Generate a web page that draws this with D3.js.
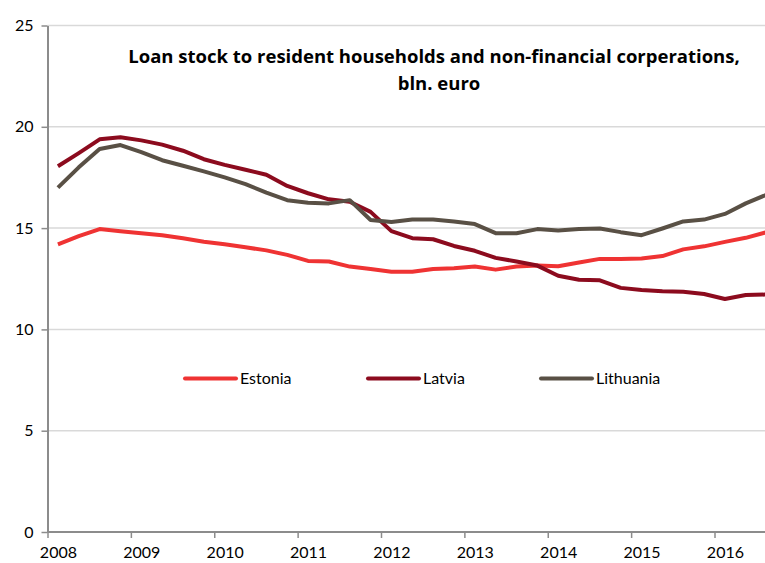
<!DOCTYPE html>
<html>
<head>
<meta charset="utf-8">
<script src="https://cdn.jsdelivr.net/npm/d3@7"></script>
<style>
  body { margin: 0; background: #fff; }
  text { font-family: Lato, "Open Sans", sans-serif; fill: #000; }
</style>
</head>
<body>
<div id="chart"></div>
<script>
// quarterly figures, 2008 Q1 .. 2016 Q3, bln. euro
var quarters = d3.range(35).map(function(i) { return 2008 + (i + 0.5) / 4; });

var estonia = [14.2, 14.6, 14.95, 14.85, 14.75, 14.65, 14.5, 14.33, 14.2, 14.05,
  13.9, 13.68, 13.38, 13.35, 13.1, 12.98, 12.85, 12.85, 12.98, 13.02,
  13.1, 12.95, 13.1, 13.15, 13.12, 13.3, 13.48, 13.48, 13.5, 13.62,
  13.95, 14.1, 14.32, 14.52, 14.8];

var latvia = [18.05, 18.7, 19.38, 19.48, 19.33, 19.12, 18.82, 18.4, 18.12, 17.88,
  17.63, 17.08, 16.72, 16.42, 16.3, 15.8, 14.85, 14.5, 14.45, 14.12,
  13.88, 13.53, 13.35, 13.15, 12.65, 12.45, 12.42, 12.05, 11.95, 11.88,
  11.86, 11.75, 11.5, 11.7, 11.72];

var lithuania = [17.0, 18.0, 18.9, 19.1, 18.75, 18.35, 18.08, 17.8, 17.5, 17.17,
  16.75, 16.38, 16.25, 16.22, 16.38, 15.4, 15.3, 15.42, 15.42, 15.33,
  15.2, 14.75, 14.75, 14.95, 14.88, 14.95, 14.98, 14.8, 14.65, 14.98,
  15.33, 15.42, 15.7, 16.22, 16.65];

var seriesNames = ["Estonia", "Latvia", "Lithuania"];
var seriesColors = ["#ef3333", "#8c0b1e", "#595045"];
var yearTicks = d3.range(2008, 2017);
var valueTicks = [0, 5, 10, 15, 20, 25];

var svgWidth = 765;
var svgHeight = 563;

var svg = d3.select("#chart").append("svg")
  .attr("width", svgWidth)
  .attr("height", svgHeight);

// scales: one year is about 83 px, the plot runs past the right edge
var xScale = d3.scaleLinear().domain([2008, 2016]).range([47.5, 714.5]);
var yScale = d3.scaleLinear().domain([0, 25]).range([532, 25.5]);

// horizontal gridlines
svg.append("g")
  .selectAll("line")
  .data(valueTicks.slice(1))
  .enter()
  .append("line")
  .attr("x1", xScale(2008))
  .attr("x2", svgWidth)
  .attr("y1", d => yScale(d))
  .attr("y2", d => yScale(d))
  .attr("stroke", "#d9d9d9")
  .attr("stroke-width", 1.5);

// y axis
var leftAxis = d3.axisLeft(yScale).tickValues(valueTicks).tickSize(6).tickPadding(8).tickSizeOuter(0);
var yAxisG = svg.append("g")
  .attr("transform", `translate(${xScale(2008)}, 0)`)
  .call(leftAxis);
yAxisG.select(".domain").attr("stroke", "#8c8c8c").attr("stroke-width", 2);
yAxisG.selectAll(".tick line").attr("stroke", "#8c8c8c").attr("stroke-width", 1.5);
yAxisG.selectAll(".tick text").style("font-size", "16px").attr("fill", "#000");

// x axis, labels sit on the first quarter of each year
var bottomAxis = d3.axisBottom(xScale).tickValues(yearTicks).tickFormat(d3.format("d"))
  .tickSize(6).tickPadding(9).tickSizeOuter(0);
var xAxisG = svg.append("g")
  .attr("transform", `translate(0, ${yScale(0)})`)
  .call(bottomAxis);
xAxisG.select(".domain").attr("d", `M${xScale(2008)},0H${svgWidth}`)
  .attr("stroke", "#8c8c8c").attr("stroke-width", 2);
xAxisG.selectAll(".tick line").attr("stroke", "#8c8c8c").attr("stroke-width", 1.5);
xAxisG.selectAll(".tick text")
  .style("font-size", "16px")
  .attr("fill", "#000")
  .attr("x", xScale(2008.125) - xScale(2008));

// lines
var line = d3.line()
  .x((d, i) => xScale(quarters[i]))
  .y(d => yScale(d));

var allSeries = [estonia, latvia, lithuania];
svg.append("g")
  .selectAll("path")
  .data(allSeries)
  .enter()
  .append("path")
  .attr("d", line)
  .attr("fill", "none")
  .attr("stroke", (d, i) => seriesColors[i])
  .attr("stroke-width", 4)
  .attr("stroke-linejoin", "round");

// legend
var legendX = [185, 368, 541];
var legend = svg.append("g")
  .selectAll("g")
  .data(seriesNames)
  .enter()
  .append("g")
  .attr("transform", (d, i) => `translate(${legendX[i]}, 378.5)`);

legend.append("line")
  .attr("x1", 0)
  .attr("x2", 51)
  .attr("stroke", (d, i) => seriesColors[i])
  .attr("stroke-width", 4)
  .attr("stroke-linecap", "round");

legend.append("text")
  .attr("x", 55)
  .attr("dy", "0.35em")
  .style("font-size", "16px")
  .text(d => d);

// title
var title = svg.append("text")
  .attr("text-anchor", "middle")
  .style("font-family", "'Open Sans', sans-serif")
  .style("font-size", "18.5px")
  .style("font-weight", "bold");
title.append("tspan").attr("x", 434).attr("y", 63)
  .text("Loan stock to resident households and non-financial corperations,");
title.append("tspan").attr("x", 439).attr("y", 90)
  .text("bln. euro");
</script>
</body>
</html>
